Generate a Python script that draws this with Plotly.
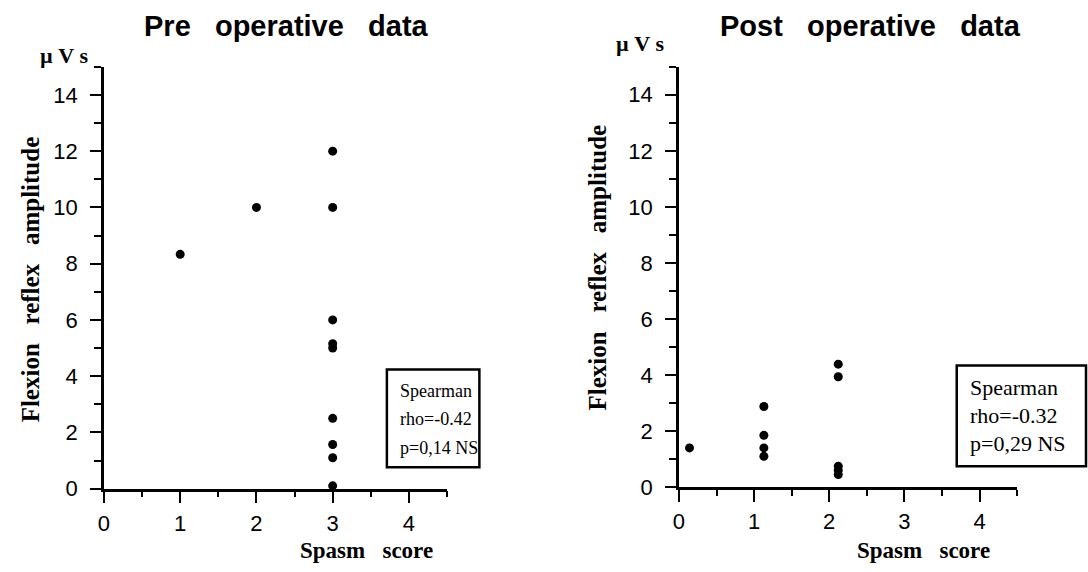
import plotly.graph_objects as go

W, H = 1088, 572

# ---- data ----
pre_x = [1, 2, 3, 3, 3, 3, 3, 3, 3, 3, 3]
pre_y = [8.33, 10.0, 12.0, 10.0, 6.0, 5.15, 5.0, 2.5, 1.57, 1.1, 0.1]

post_x = [0.14, 1.13, 1.13, 1.13, 1.13, 2.12, 2.12, 2.12, 2.12, 2.12]
post_y = [1.4, 2.88, 1.85, 1.4, 1.1, 4.39, 3.94, 0.75, 0.6, 0.45]

titles = ["Pre   operative   data", "Post   operative   data"]
stats_pre = ["Spearman", "rho=-0.42", "p=0,14 NS"]
stats_post = ["Spearman", "rho=-0.32", "p=0,29 NS"]
x_title = "Spasm   score"
y_title = "Flexion   reflex   amplitude"
unit = "µ V s"

def nb(s):
    return s.replace(" ", "\u00a0")

def px(x):
    return x / W

def py(y):
    return 1 - y / H

fig = go.Figure()
fig.add_trace(go.Scatter(x=pre_x, y=pre_y, mode="markers", xaxis="x", yaxis="y",
                         marker=dict(color="black", size=9), cliponaxis=False,
                         showlegend=False))
fig.add_trace(go.Scatter(x=post_x, y=post_y, mode="markers", xaxis="x2", yaxis="y2",
                         marker=dict(color="black", size=9), cliponaxis=False,
                         showlegend=False))

tickfont = dict(family="Liberation Sans, Arial", size=22, color="black")
common_x = dict(range=[0, 4.5], dtick=1, tick0=0, showgrid=False, zeroline=False,
                showline=True, linecolor="black", linewidth=2.5,
                ticks="outside", ticklen=12, tickwidth=2, tickcolor="black",
                tickfont=tickfont, ticklabelstandoff=1,
                minor=dict(ticks="outside", ticklen=6, tickwidth=2, tickcolor="black",
                           dtick=0.5, tick0=0, showgrid=False))
common_y = dict(range=[0, 15], dtick=2, tick0=0, showgrid=False, zeroline=False,
                showline=True, linecolor="black", linewidth=2.5,
                ticks="outside", ticklen=11, tickwidth=2, tickcolor="black",
                tickfont=tickfont, ticklabelstandoff=8,
                minor=dict(ticks="outside", ticklen=7, tickwidth=2, tickcolor="black",
                           dtick=1, tick0=0, showgrid=False))

fig.update_layout(
    width=W, height=H, margin=dict(l=0, r=0, t=0, b=0),
    paper_bgcolor="white", plot_bgcolor="white",
    xaxis=dict(domain=[px(98.5), px(443.5)], anchor="y", **common_x),
    yaxis=dict(domain=[py(500), py(68.3)], anchor="x", **common_y),
    xaxis2=dict(domain=[px(676.7), px(1016.7)], anchor="y2", **common_x),
    yaxis2=dict(domain=[py(498.5), py(68.3)], anchor="x2", **common_y),
)

ann = []
titlefont = dict(family="Liberation Sans, Arial", size=29, color="black")
serifb = dict(family="Liberation Serif, Times New Roman", size=25, color="black")
for cx, t in [(282.5, titles[0]), (869, titles[1])]:
    ann.append(dict(x=px(cx), y=py(27), xref="paper", yref="paper", text="<b>" + nb(t) + "</b>",
                    showarrow=False, font=titlefont, xanchor="center", yanchor="middle"))
for cx, cy in [(59, 57), (638, 45)]:
    ann.append(dict(x=px(cx), y=py(cy), xref="paper", yref="paper", text="<b>" + nb(unit) + "</b>",
                    showarrow=False, font=dict(family="Liberation Serif", size=22, color="black"),
                    xanchor="center", yanchor="middle"))
for cx, cy in [(25, 286), (595, 274)]:
    ann.append(dict(x=px(cx), y=py(cy), xref="paper", yref="paper", text="<b>" + nb(y_title) + "</b>",
                    showarrow=False, font=serifb, textangle=-90,
                    xanchor="center", yanchor="middle"))
for cx, cy in [(362, 563), (923, 563)]:
    ann.append(dict(x=px(cx), y=py(cy), xref="paper", yref="paper", text="<b>" + nb(x_title) + "</b>",
                    showarrow=False, font=dict(family="Liberation Serif", size=23, color="black"),
                    xanchor="center", yanchor="middle"))

for (x0, y0, x1, y1), lines, fs in [((383, 378, 476, 478), stats_pre, 18),
                                    ((956, 374, 1086, 477), stats_post, 22)]:
    fig.add_shape(type="rect", xref="paper", yref="paper",
                  x0=px(x0), x1=px(x1), y0=py(y1), y1=py(y0),
                  line=dict(color="black", width=2.5), fillcolor="rgba(0,0,0,0)")
    for i, line in enumerate(lines):
        ann.append(dict(x=px(x0 + 11), y=py(y0 + 22 + i * 29), xref="paper", yref="paper",
                        text=nb(line), showarrow=False,
                        font=dict(family="Liberation Serif, Times New Roman", size=fs, color="black"),
                        xanchor="left", yanchor="middle"))

fig.update_layout(annotations=ann)
fig.write_html("out.html", config={"displayModeBar": False},
               post_script="document.body.style.margin='0';document.body.style.overflow='hidden';")
